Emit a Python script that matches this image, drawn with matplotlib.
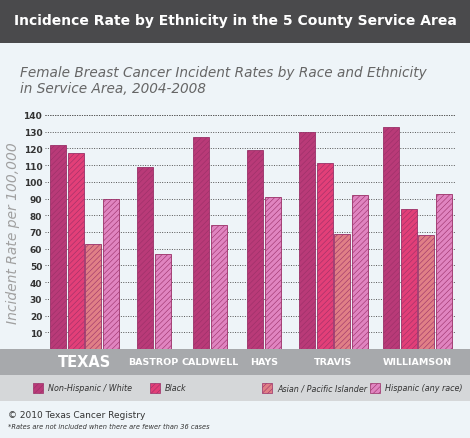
import matplotlib
matplotlib.use("Agg")
import matplotlib.pyplot as plt
from matplotlib.patches import Rectangle

categories = ["TEXAS", "BASTROP", "CALDWELL", "HAYS", "TRAVIS", "WILLIAMSON"]
series = ["Non-Hispanic / White", "Black", "Asian / Pacific Islander", "Hispanic (any race)"]
white = [122, 109, 127, 119, 130, 133]
black = [117, None, None, None, 111, 84]
asian = [63, None, None, None, 69, 68]
hispanic = [90, 57, 74, 91, 92, 93]
colors = ["#b93a78", "#e23f78", "#e07f86", "#e084c0"]
yticks = list(range(10, 150, 10))

plt.rcParams["hatch.color"] = "#f4b0cc"
plt.rcParams["hatch.linewidth"] = 0.4

W, H = 470, 439
fig = plt.figure(figsize=(W/100, H/100), dpi=100)
fig.patch.set_facecolor("#eef4f8")

def px(x0, y0, x1, y1):
    return [x0/W, 1-y1/H, (x1-x0)/W, (y1-y0)/H]

tb = fig.add_axes(px(0, 0, W, 44)); tb.axis("off")
tb.add_patch(Rectangle((0, 0), 1, 1, color="#4a4a4c", transform=tb.transAxes))
tb.text(0.5, 0.52, "Incidence Rate by Ethnicity in the 5 County Service Area", color="white",
        fontsize=10, fontweight="bold", ha="center", va="center", transform=tb.transAxes)
fig.text(20/W, 1-81/H, "Female Breast Cancer Incident Rates by Race and Ethnicity\nin Service Area, 2004-2008",
         fontsize=9.8, style="italic", color="#666666", va="center", linespacing=1.1)

band = fig.add_axes(px(0, 350, W, 376)); band.axis("off")
band.add_patch(Rectangle((0, 0), 1, 1, color="#a7a9ac", transform=band.transAxes))
lg = fig.add_axes(px(0, 376, W, 402)); lg.axis("off")
lg.add_patch(Rectangle((0, 0), 1, 1, color="#d5d7d9", transform=lg.transAxes))

ax = fig.add_axes(px(45, 116, W, 350))
ax.set_facecolor("none")
ax.set_xlim(45, W); ax.set_ylim(0, 140)
for s in ax.spines.values():
    s.set_visible(False)
ax.set_xticks([])
ax.set_yticks(yticks)
ax.set_yticklabels([str(t) for t in yticks], fontsize=6.5, fontweight="bold", color="#333333")
ax.tick_params(axis="y", length=0, pad=2)
for t in yticks + [140]:
    ax.plot([45, 455], [t, t], ls=(0, (1, 1.5)), color="#555555", lw=0.7, zorder=1)
ax.plot([45, 455], [0, 0], ls=(0, (1, 1.5)), color="#555555", lw=0.7, zorder=1)

starts = [50, 137, 193, 247, 299, 383]
bw, gap = 16, 1.7
for gi, st in enumerate(starts):
    vals = [white[gi], black[gi], asian[gi], hispanic[gi]]
    k = 0
    for si, v in enumerate(vals):
        if v is None:
            continue
        ax.bar(st + k*(bw+gap), v, width=bw, align="edge", color=colors[si],
               edgecolor="#9a3068", linewidth=0.6, hatch="//////", zorder=2)
        k += 1

fig.text(13/W, 1-233/H, "Incident Rate per 100,000", rotation=90, fontsize=10, style="italic",
         color="#a0a0a0", va="center", ha="center")

centers = [85, 153, 210, 264, 333, 417]
for c, name in zip(centers, categories):
    fs = 10.5 if name == "TEXAS" else 6.8
    fig.text(c/W, 1-363/H, name, ha="center", va="center", color="white", fontsize=fs,
             fontweight="bold")

legx = [33, 150, 262, 370]
for x, s, c in zip(legx, series, colors):
    fig.patches.append(Rectangle((x/W, 1-394/H), 10/W, 10/H, transform=fig.transFigure,
                                 facecolor=c, edgecolor="#9a3068", lw=0.5, hatch="//////"))
    fig.text((x+15)/W, 1-389/H, s, fontsize=5.8, style="italic", va="center", color="#333333")

fig.text(8/W, 1-416/H, "© 2010 Texas Cancer Registry", fontsize=6.5, color="#333333", va="center")
fig.text(8/W, 1-427/H, "*Rates are not included when there are fewer than 36 cases", fontsize=4.8,
         style="italic", color="#333333", va="center")

fig.savefig("out.png", dpi=100, facecolor=fig.get_facecolor())
